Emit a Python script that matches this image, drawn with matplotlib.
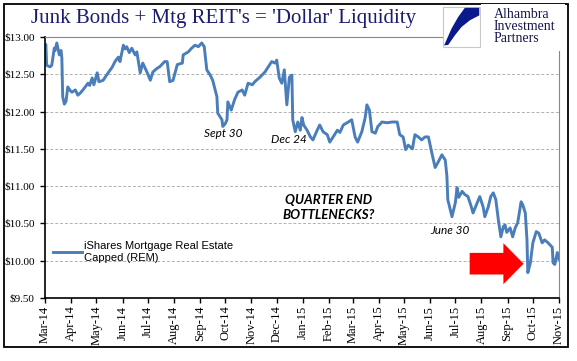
import numpy as np
import pandas as pd
import matplotlib.pyplot as plt
import matplotlib.dates as mdates
from matplotlib.patches import Rectangle, Polygon, FancyArrow
from matplotlib.ticker import FuncFormatter

# Datos: dias desde 2014-03-01 y precio de cierre aproximado de REM
inicio = pd.Timestamp('2014-03-01')
dias = [0, 1, 2, 6, 8, 11, 12, 14, 17, 19, 20, 21, 23, 25, 27, 30, 32, 36, 39, 42,
        45, 51, 53, 56, 58, 62, 64, 69, 75, 80, 83, 87, 89, 93, 95, 97, 100, 103, 107, 109,
        113, 116, 121, 125, 128, 133, 136, 142, 145, 148, 152, 157, 163, 164, 170, 174, 178, 182, 186, 189,
        192, 196, 199, 204, 205, 210, 211, 214, 216, 217, 221, 225, 229, 234, 237, 241, 246, 249, 255, 261,
        265, 269, 273, 275, 278, 281, 284, 287, 290, 293, 294, 297, 300, 303, 305, 307, 311, 315, 318, 323,
        326, 330, 335, 338, 342, 347, 350, 354, 360, 364, 368, 371, 376, 380, 382, 385, 388, 392, 395, 400,
        406, 412, 418, 421, 425, 428, 431, 436, 439, 443, 447, 451, 455, 459, 463, 466, 471, 475, 477, 478,
        481, 483, 487, 489, 491, 495, 498, 502, 506, 508, 513, 516, 520, 522, 526, 529, 532, 535, 538, 541,
        544, 546, 548, 552, 555, 558, 561, 565, 567, 570, 572, 573, 576, 579, 583, 586, 590, 593, 597, 602,
        603, 605, 608, 610]
precio = [12.85, 12.90, 12.62, 12.60, 12.62, 12.85, 12.82, 12.92, 12.76, 12.82, 12.72, 12.20, 12.10, 12.14, 12.33, 12.28, 12.26, 12.29, 12.22, 12.25,
          12.29, 12.38, 12.35, 12.45, 12.36, 12.52, 12.40, 12.42, 12.52, 12.60, 12.67, 12.73, 12.67, 12.89, 12.84, 12.87, 12.79, 12.85, 12.76, 12.80,
          12.52, 12.65, 12.53, 12.42, 12.53, 12.58, 12.60, 12.67, 12.67, 12.40, 12.42, 12.63, 12.65, 12.76, 12.80, 12.85, 12.89, 12.87, 12.92, 12.87,
          12.56, 12.49, 12.42, 12.20, 11.98, 11.89, 11.80, 11.84, 11.89, 12.13, 12.02, 12.16, 12.26, 12.29, 12.22, 12.38, 12.36, 12.40, 12.46, 12.53,
          12.60, 12.67, 12.65, 12.69, 12.45, 12.38, 12.56, 12.09, 12.46, 12.49, 11.89, 11.73, 11.86, 11.75, 11.92, 11.82, 11.75, 11.66, 11.62, 11.75,
          11.82, 11.73, 11.69, 11.59, 11.66, 11.75, 11.72, 11.82, 11.86, 11.89, 11.66, 11.59, 11.73, 11.92, 12.09, 12.02, 11.73, 11.71, 11.80, 11.86,
          11.85, 11.86, 11.86, 11.69, 11.66, 11.49, 11.55, 11.50, 11.69, 11.66, 11.62, 11.66, 11.66, 11.45, 11.25, 11.31, 11.42, 11.35, 11.13, 10.82,
          10.68, 10.59, 10.78, 10.98, 10.85, 10.93, 10.89, 10.86, 10.72, 10.64, 10.78, 10.86, 10.72, 10.59, 10.72, 10.86, 10.91, 10.82, 10.55, 10.32,
          10.46, 10.48, 10.38, 10.44, 10.32, 10.44, 10.51, 10.79, 10.75, 10.64, 10.28, 9.84, 9.97, 10.24, 10.39, 10.37, 10.24, 10.28, 10.24, 10.18,
          9.97, 9.95, 10.11, 10.02]

fechas = inicio + pd.to_timedelta(dias, unit='D')
serie = 'iShares Mortgage Real Estate\nCapped (REM)'
titulo = "Junk Bonds + Mtg REIT's = 'Dollar' Liquidity"
marcas_y = [9.5, 10.0, 10.5, 11.0, 11.5, 12.0, 12.5, 13.0]

azul = '#4A7EBB'
marino = '#1B1B6F'

fig = plt.figure(figsize=(5.77, 3.61), dpi=100)
fig.patches.append(Rectangle((4 / 577, 1 - 347 / 361), 564 / 577, 343 / 361,
                             transform=fig.transFigure, fill=False, lw=1.3, ec='black'))

ax = fig.add_axes([45 / 577, 1 - 298 / 361, 514 / 577, 261 / 361])
ax.plot(fechas, precio, color=azul, lw=2.1, label=serie)

ax.set_ylim(9.5, 13.0)
ax.set_xlim(pd.Timestamp('2014-03-01'), pd.Timestamp('2015-11-01'))
ax.set_yticks(marcas_y)
ax.yaxis.set_major_formatter(FuncFormatter(lambda v, p: '${:.2f}'.format(v)))
ax.xaxis.set_major_locator(mdates.MonthLocator())
ax.xaxis.set_major_formatter(mdates.DateFormatter('%b-%y'))
for l in ax.get_xticklabels():
    l.set_family('Liberation Serif')
    l.set_fontsize(9)
for l in ax.get_yticklabels():
    l.set_family('Liberation Serif')
    l.set_fontsize(8)
plt.setp(ax.get_xticklabels(), rotation=90)
ax.tick_params(axis='both', direction='out', length=3.5, width=1)
ax.tick_params(axis='y', pad=4)
ax.tick_params(axis='x', pad=2)
ax.grid(axis='y', ls=(0, (3, 2)), color='#B0B0B0', lw=0.7)
ax.set_axisbelow(True)

ax.spines['top'].set_color('#888888')
ax.spines['right'].set_color('#888888')
ax.spines['top'].set_linewidth(0.8)
ax.spines['right'].set_linewidth(0.8)
ax.spines['left'].set_linewidth(1.2)
ax.spines['bottom'].set_linewidth(1.2)

ax.legend(loc='lower left', bbox_to_anchor=(0.0, 0.105), frameon=False,
          prop={'family': 'Liberation Sans', 'size': 8}, handlelength=2.6,
          handletextpad=0.2, borderaxespad=0.3)

# Anotaciones
ax.text(pd.Timestamp('2014-09-28'), 11.70, 'Sept 30', family='Lato', style='italic',
        fontsize=8.5, ha='center', va='center')
ax.text(pd.Timestamp('2014-12-15'), 11.62, 'Dec 24', family='Lato', style='italic',
        fontsize=8.5, ha='center', va='center')
ax.text(pd.Timestamp('2015-02-01'), 10.72, 'QUARTER END\nBOTTLENECKS?', family='Lato',
        style='italic', weight='bold', fontsize=9.5, ha='center', va='center', linespacing=1.3)
ax.text(pd.Timestamp('2015-06-24'), 10.40, 'June 30', family='Lato', style='italic',
        fontsize=8.5, ha='center', va='center')

# Flecha roja
flecha = FancyArrow(mdates.date2num(pd.Timestamp('2015-07-18')), 9.96,
                    64, 0, width=0.29, head_width=0.55, head_length=24,
                    length_includes_head=True, color='#FF0000', lw=0)
ax.add_patch(flecha)

# Titulo
fig.text(224 / 577, 1 - 18 / 361, titulo, family='Liberation Serif', fontsize=15,
         color=marino, ha='center', va='center')

# Logo
x0, y0, w, h = 443 / 577, 1 - 47 / 361, 37 / 577, 40 / 361
fig.patches.append(Rectangle((x0, y0), w, h, transform=fig.transFigure,
                             fc='white', ec='#C8C8C8', lw=0.8, zorder=5))
forma = [(0.59, 0.98), (0.98, 0.98), (0.98, 0.79), (0.73, 0.67), (0.50, 0.50),
         (0.32, 0.29), (0.14, 0.05), (0.03, 0.04), (0.23, 0.46), (0.41, 0.75)]
forma = [(x0 + w * a, y0 + h * b) for a, b in forma]
fig.patches.append(Polygon(forma, closed=True, transform=fig.transFigure,
                           fc='#0A1A8A', ec='none', zorder=6))
fig.patches.append(Rectangle((481 / 577, 1 - 51 / 361), 84 / 577, 47 / 361,
                             transform=fig.transFigure, fc='white', ec='none', zorder=5))
for i, palabra in enumerate(['Alhambra', 'Investment', 'Partners']):
    fig.text(494 / 577, 1 - (15 + 12 * i) / 361, palabra, family='Liberation Serif',
             fontsize=10, color='#16164F', ha='left', va='center', zorder=7)

fig.savefig('out.png', dpi=100)
